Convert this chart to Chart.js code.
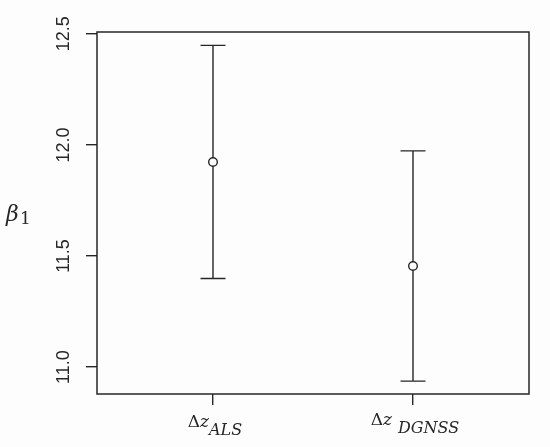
<!DOCTYPE html>
<html>
<head>
<meta charset="utf-8">
<script src="https://cdn.jsdelivr.net/npm/chart.js@4.4.0/dist/chart.umd.min.js"></script>
<style>
  html, body { margin: 0; padding: 0; background: #fdfdfe; }
  #wrap { width: 550px; height: 447px; position: relative; }
</style>
</head>
<body>
<div id="wrap"><canvas id="c" width="550" height="447"></canvas></div>
<script>
// ---- data ----
const categories = [1, 2];                 // x positions of the two estimates
const labelMain = ["\u0394z", "\u0394z"];
const labelSub  = ["ALS", "DGNSS"];
const estimates = [11.923, 11.455];
const lowerCI   = [11.399, 10.937];
const upperCI   = [12.448, 11.973];
const yTicks    = [11.0, 11.5, 12.0, 12.5];
const yTickText = ["11.0", "11.5", "12.0", "12.5"];
const xRange    = [0.42, 2.58];
const yRange    = [10.879, 12.508];

const INK = '#262626';

const points = categories.map((x, i) => ({ x: x, y: estimates[i] }));

const decor = {
  id: 'decor',
  afterDatasetsDraw(chart) {
    const ctx = chart.ctx;
    const xs = chart.scales.x, ys = chart.scales.y;
    const a = chart.chartArea;
    ctx.save();
    // error bars
    ctx.strokeStyle = INK;
    ctx.lineWidth = 1.4;
    categories.forEach((c, i) => {
      const px = xs.getPixelForValue(c);
      const pLo = ys.getPixelForValue(lowerCI[i]);
      const pHi = ys.getPixelForValue(upperCI[i]);
      const pM = ys.getPixelForValue(estimates[i]);
      const r = 4.3;
      ctx.beginPath();
      ctx.moveTo(px, pHi); ctx.lineTo(px, pM - r);
      ctx.moveTo(px, pM + r); ctx.lineTo(px, pLo);
      ctx.moveTo(px - 12.5, pHi); ctx.lineTo(px + 12.5, pHi);
      ctx.moveTo(px - 12.5, pLo); ctx.lineTo(px + 12.5, pLo);
      ctx.stroke();
    });
    // box
    ctx.lineWidth = 1.5;
    ctx.strokeRect(a.left, a.top, a.right - a.left, a.bottom - a.top);
    // y tick labels (rotated, R style)
    ctx.fillStyle = INK;
    ctx.font = '18px "Liberation Sans", Arial, sans-serif';
    ctx.textAlign = 'center';
    ctx.textBaseline = 'middle';
    yTicks.forEach((v, i) => {
      const py = ys.getPixelForValue(v);
      ctx.save();
      ctx.translate(64, py);
      ctx.rotate(-Math.PI / 2);
      ctx.fillText(yTickText[i], 0, 0);
      ctx.restore();
    });
    // x labels with subscripts
    ctx.textAlign = 'left';
    ctx.textBaseline = 'alphabetic';
    const baseY = [427, 425];
    const subY  = [435, 433];
    const gap   = [0, 6];
    categories.forEach((c, i) => {
      const px = xs.getPixelForValue(c);
      const fMainD = '17px "DejaVu Serif", serif';
      const fMainZ = 'italic 17px "DejaVu Serif", serif';
      const fSub = 'italic 16px "DejaVu Serif", serif';
      ctx.font = fMainD; const wD = ctx.measureText(labelMain[i][0]).width;
      ctx.font = fMainZ; const wZ = ctx.measureText(labelMain[i][1]).width;
      ctx.font = fSub; const wS = ctx.measureText(labelSub[i]).width;
      const total = wD + wZ + gap[i] + wS;
      let x0 = px - total / 2 + 2;
      ctx.font = fMainD; ctx.fillText(labelMain[i][0], x0, baseY[i]); x0 += wD;
      ctx.font = fMainZ; ctx.fillText(labelMain[i][1], x0, baseY[i]); x0 += wZ + gap[i];
      ctx.font = fSub; ctx.fillText(labelSub[i], x0, subY[i]);
    });
    // y axis title beta_1
    ctx.font = 'italic 22px "DejaVu Serif", serif';
    ctx.fillText('\u03B2', 6, 221);
    ctx.font = '17px "DejaVu Serif", serif';
    ctx.fillText('1', 20, 224);
    ctx.restore();
  }
};

new Chart(document.getElementById('c'), {
  type: 'scatter',
  data: {
    datasets: [{
      data: points,
      pointStyle: 'circle',
      pointRadius: 4.3,
      pointBorderWidth: 1.4,
      pointBorderColor: INK,
      pointBackgroundColor: 'rgba(0,0,0,0)',
      pointHoverRadius: 4.3
    }]
  },
  options: {
    responsive: false,
    animation: false,
    events: [],
    layout: { padding: { top: 32, right: 21, left: 0, bottom: 0 } },
    plugins: { legend: { display: false }, tooltip: { enabled: false } },
    scales: {
      x: {
        type: 'linear',
        min: xRange[0], max: xRange[1],
        afterBuildTicks: s => { s.ticks = categories.map(v => ({ value: v })); },
        afterFit: s => { s.height = 447 - 394; },
        border: { display: false },
        grid: { drawOnChartArea: false, drawTicks: true, tickLength: 11, color: INK, lineWidth: 1.4 },
        ticks: { display: false }
      },
      y: {
        type: 'linear',
        min: yRange[0], max: yRange[1],
        afterBuildTicks: s => { s.ticks = yTicks.map(v => ({ value: v })); },
        afterFit: s => { s.width = 97; },
        border: { display: false },
        grid: { drawOnChartArea: false, drawTicks: true, tickLength: 11, color: INK, lineWidth: 1.4 },
        ticks: { display: false }
      }
    }
  },
  plugins: [decor]
});
</script>
</body>
</html>
